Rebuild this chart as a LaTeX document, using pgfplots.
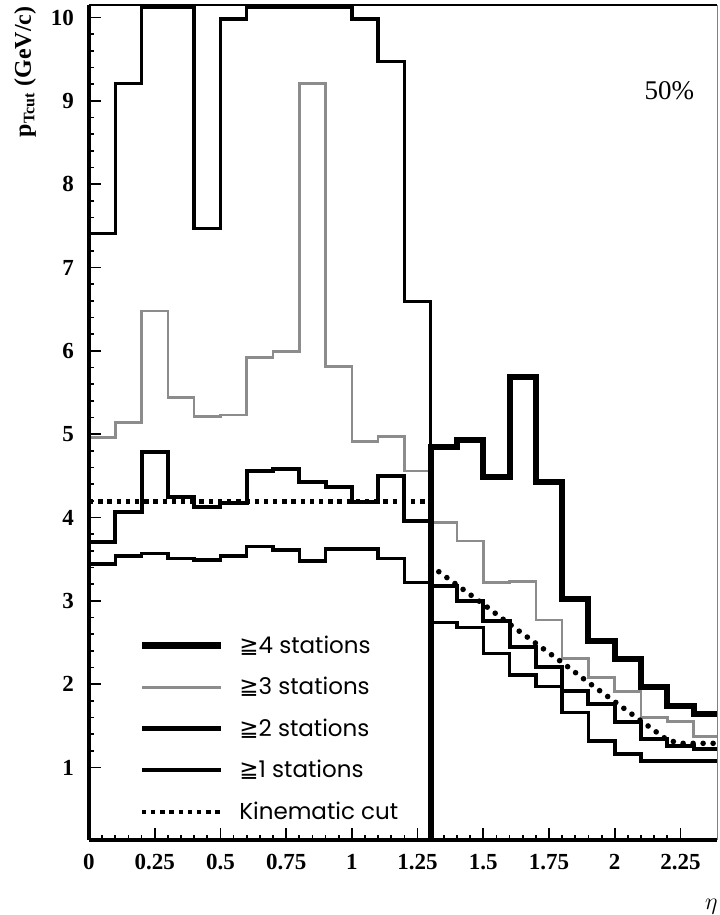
\documentclass[border=0pt]{standalone}
\usepackage{fontspec}
\setmainfont{Liberation Serif}
\newfontfamily\legfont{Poppins}
\newfontfamily\symfont{DejaVu Sans}
\usepackage{pgfplots}
\pgfplotsset{compat=1.18}
\definecolor{grayline}{gray}{0.55}
\begin{document}
\begin{tikzpicture}
\useasboundingbox (-44.5pt,-37.5pt) rectangle (315pt,420pt);
\begin{axis}[
  at={(0pt,0pt)}, anchor=south west,
  scale only axis, width=314pt, height=417.5pt,
  xmin=0, xmax=2.389, ymin=0.13, ymax=10.15,
  clip mode=individual,
  axis line style={draw=none},
  xtick={0,0.25,0.5,0.75,1,1.25,1.5,1.75,2,2.25},
  ytick={1,2,3,4,5,6,7,8,9,10},
  minor x tick num=4, minor y tick num=4,
  xtick pos=bottom, ytick pos=left, tick align=inside,
  major tick length=6pt, minor tick length=2.5pt,
  every tick/.style={black, line width=0.9pt},
  /pgf/number format/assume math mode=true,
  ticklabel style={font=\bfseries\fontsize{11.5}{13}\selectfont},
  xticklabel style={yshift=-3.5pt},
  yticklabel style={xshift=-4pt},
  legend style={at={(rel axis cs:0.078,0.25)}, anchor=north west, draw=none, fill=none,
    font=\legfont\fontsize{11.5}{13.5}\selectfont, row sep=6.5pt, inner sep=0pt,
    /tikz/every odd column/.style={column sep=5.5pt}},
  legend cell align=left,
  legend image code/.code={\draw[#1] (0pt,0pt) -- (39.5pt,0pt);},
]
% barrel region (0 < eta < 1.3)
\addplot[forget plot, const plot mark left, line width=1.7pt, black] coordinates {
 (0,7.41) (0.1,9.21) (0.2,10.12) (0.3,10.12) (0.4,7.47) (0.5,9.98) (0.6,10.12) (0.7,10.12)
 (0.8,10.12) (0.9,10.12) (1.0,9.98) (1.1,9.47) (1.2,6.59) (1.3,0)};
\addplot[forget plot, const plot mark left, line width=1.3pt, grayline] coordinates {
 (0,4.96) (0.1,5.14) (0.2,6.48) (0.3,5.44) (0.4,5.21) (0.5,5.23) (0.6,5.92) (0.7,5.99)
 (0.8,9.21) (0.9,5.81) (1.0,4.91) (1.1,4.97) (1.2,4.56) (1.3,0)};
\addplot[forget plot, const plot mark left, line width=2pt, black] coordinates {
 (0,3.71) (0.1,4.07) (0.2,4.79) (0.3,4.25) (0.4,4.13) (0.5,4.17) (0.6,4.56) (0.7,4.58)
 (0.8,4.43) (0.9,4.36) (1.0,4.18) (1.1,4.50) (1.2,3.96) (1.3,0)};
\addplot[forget plot, const plot mark left, line width=1.7pt, black] coordinates {
 (0,3.44) (0.1,3.54) (0.2,3.57) (0.3,3.51) (0.4,3.49) (0.5,3.54) (0.6,3.65) (0.7,3.61)
 (0.8,3.48) (0.9,3.62) (1.0,3.62) (1.1,3.51) (1.2,3.22) (1.3,0)};
% endcap region (1.3 < eta < 2.4)
\addplot[forget plot, const plot mark right, line width=1.3pt, grayline] coordinates {
 (1.3,0) (1.4,3.94) (1.5,3.72) (1.6,3.22) (1.7,3.23) (1.8,2.77) (1.9,2.31) (2.0,2.08)
 (2.1,1.91) (2.2,1.60) (2.3,1.55) (2.4,1.37)};
\addplot[forget plot, const plot mark right, line width=2pt, black] coordinates {
 (1.3,0) (1.4,3.18) (1.5,3.00) (1.6,2.76) (1.7,2.45) (1.8,2.20) (1.9,1.92) (2.0,1.76)
 (2.1,1.54) (2.2,1.34) (2.3,1.26) (2.4,1.22)};
\addplot[forget plot, const plot mark right, line width=1.8pt, black] coordinates {
 (1.3,0) (1.4,2.74) (1.5,2.68) (1.6,2.37) (1.7,2.11) (1.8,1.97) (1.9,1.66) (2.0,1.32)
 (2.1,1.16) (2.2,1.08) (2.3,1.08) (2.4,1.08)};
% kinematic cut
\addplot[forget plot, black, line width=2.2pt, dash pattern=on 2.2pt off 2.4pt] coordinates {
 (0,4.19) (1.3,4.19)};
\addplot[forget plot, black, line width=2.8pt, line cap=round, dash pattern=on 0pt off 5pt] coordinates {
 (1.3,3.42) (1.4,3.19) (1.5,2.96) (1.6,2.72) (1.7,2.49) (1.8,2.26) (1.9,2.02) (2.0,1.79)
 (2.1,1.56) (2.2,1.33) (2.25,1.29) (2.4,1.29)};
\addplot[forget plot, const plot mark right, line width=3pt, black] coordinates {
 (1.3,0) (1.4,4.84) (1.5,4.93) (1.6,4.48) (1.7,5.68) (1.8,4.42) (1.9,3.02) (2.0,2.52)
 (2.1,2.30) (2.2,1.96) (2.3,1.74) (2.4,1.64)};
% legend
\addlegendimage{line width=3.5pt, black}
\addlegendentry{{\symfont ≧}4 stations}
\addlegendimage{line width=1.2pt, grayline}
\addlegendentry{{\symfont ≧}3 stations}
\addlegendimage{line width=2.5pt, black}
\addlegendentry{{\symfont ≧}2 stations}
\addlegendimage{line width=2pt, black}
\addlegendentry{{\symfont ≧}1 stations}
\addlegendimage{line width=2.2pt, black, dash pattern=on 2.2pt off 2.4pt}
\addlegendentry{Kinematic cut}
% axis frame
\draw[line width=2pt] (rel axis cs:0,0) -- (rel axis cs:0,1);
\draw[line width=2pt] (rel axis cs:0,0) -- (rel axis cs:1,0);
\draw[line width=1.2pt] (rel axis cs:0,1) -- (rel axis cs:1,1);
\draw[line width=0.5pt, black!50] (rel axis cs:1,0) -- (rel axis cs:1,1);
\node[font=\fontsize{13.5}{15}\selectfont] at (rel axis cs:0.924,0.897) {50\%};
\end{axis}
\node[rotate=90, anchor=east, inner sep=0pt, font=\bfseries\fontsize{12}{14}\selectfont] at (-32pt,417pt) {p\textsubscript{Tcut} (GeV/c)};
\node[anchor=south east, inner sep=0pt, font=\fontsize{12}{14}\selectfont] at (314.5pt,-37.3pt) {$\eta$};
\end{tikzpicture}
\end{document}
